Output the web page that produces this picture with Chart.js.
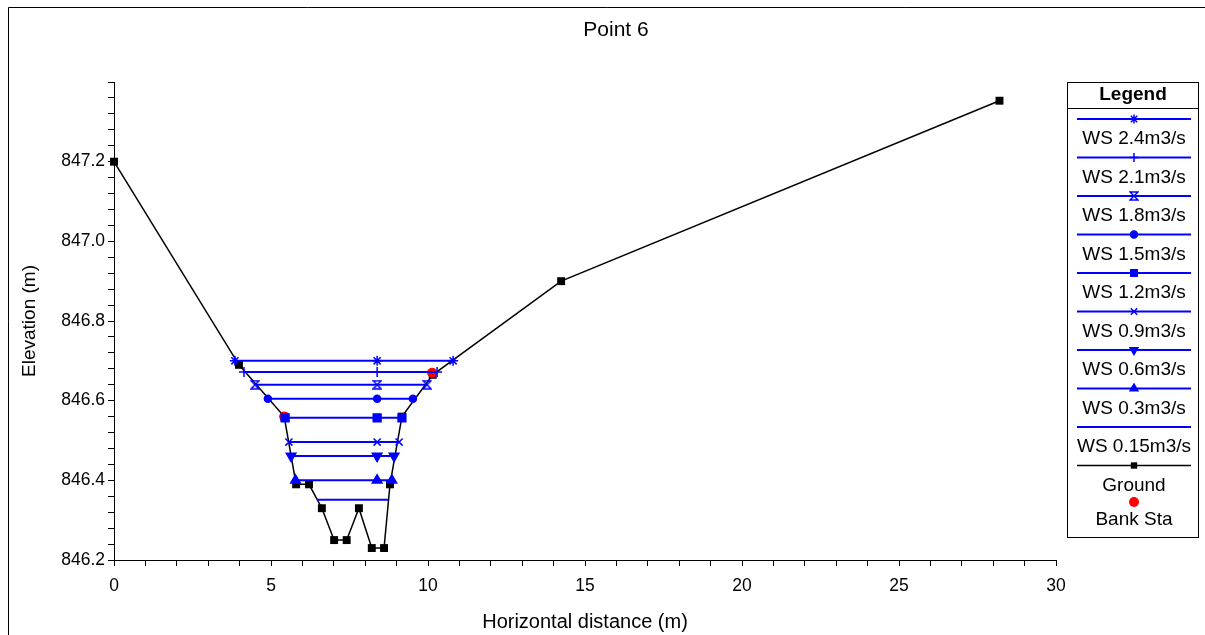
<!DOCTYPE html>
<html>
<head>
<meta charset="utf-8">
<title>Point 6</title>
<script src="https://cdn.jsdelivr.net/npm/chart.js@4.4.1/dist/chart.umd.min.js"></script>
<style>
  html, body { margin: 0; padding: 0; background: #fff; }
  #wrap { width: 1205px; height: 635px; }
</style>
</head>
<body>
<div id="wrap"><canvas id="profile" width="1205" height="635"></canvas></div>
<script>
// ground profile (station, elevation)
const groundX = [0, 3.98, 5.42, 5.80, 6.21, 6.62, 7.01, 7.41, 7.80, 8.21, 8.60, 8.79, 9.17, 10.15, 14.24, 28.20];
const groundY = [847.2, 846.69, 846.56, 846.39, 846.39, 846.33, 846.25, 846.25, 846.33, 846.23, 846.23, 846.39, 846.56, 846.665, 846.90, 847.353];

// bank stations
const bankX = [5.42, 10.13];
const bankY = [846.56, 846.67];

// water surfaces: elevation, left edge, middle marker, right edge
const wsLabels = ['WS 2.4m3/s', 'WS 2.1m3/s', 'WS 1.8m3/s', 'WS 1.5m3/s', 'WS 1.2m3/s', 'WS 0.9m3/s', 'WS 0.6m3/s', 'WS 0.3m3/s', 'WS 0.15m3/s'];
const wsElev  = [846.70, 846.672, 846.64, 846.605, 846.557, 846.496, 846.461, 846.40, 846.351];
const wsLeft  = [3.85, 4.14, 4.49, 4.90, 5.45, 5.57, 5.64, 5.78, 6.46];
const wsMid   = [8.38, 8.38, 8.38, 8.38, 8.38, 8.38, 8.38, 8.38, 8.38];
const wsRight = [10.80, 10.29, 9.97, 9.52, 9.17, 9.08, 8.92, 8.85, 8.73];

// labelled ticks
const xTickLabels = [0, 5, 10, 15, 20, 25, 30];
const yTickLabels = [846.2, 846.4, 846.6, 846.8, 847.0, 847.2];

const BLUE = '#0000ff';
const FONT = "'Liberation Sans', Arial, sans-serif";

function makeHourglass() {
  const c = document.createElement('canvas');
  c.width = 10; c.height = 10;
  const g = c.getContext('2d');
  g.strokeStyle = BLUE;
  g.lineWidth = 1.5;
  g.beginPath();
  g.moveTo(1, 1); g.lineTo(9, 1); g.lineTo(1, 9); g.lineTo(9, 9);
  g.closePath();
  g.stroke();
  return c;
}

const wsStyles = ['star', 'cross', makeHourglass(), 'circle', 'rect', 'crossRot', 'triangle', 'triangle', 'circle'];
const wsRot    = [0, 0, 0, 0, 0, 0, 180, 0, 0];
const wsRadius = [5, 5, 5, 3.5, 5.5, 5, 5.5, 5.5, 0];

const datasets = wsLabels.map((lab, i) => ({
  label: lab,
  data: [
    { x: wsLeft[i], y: wsElev[i] },
    { x: wsMid[i], y: wsElev[i] },
    { x: wsRight[i], y: wsElev[i] }
  ],
  borderColor: BLUE,
  backgroundColor: BLUE,
  borderWidth: 2,
  pointStyle: wsStyles[i],
  pointRotation: wsRot[i],
  pointRadius: wsRadius[i],
  pointBorderWidth: 1.5,
  showLine: true,
  clip: false,
  order: 0
}));

datasets.push({
  label: 'Ground',
  data: groundX.map((x, i) => ({ x: x, y: groundY[i] })),
  borderColor: '#000',
  backgroundColor: '#000',
  borderWidth: 1.5,
  pointStyle: 'rect',
  pointRadius: 5.6,
  pointBorderWidth: 0,
  showLine: true,
  clip: false,
  order: 2
});

datasets.push({
  label: 'Bank Sta',
  data: bankX.map((x, i) => ({ x: x, y: bankY[i] })),
  borderColor: '#ff0000',
  backgroundColor: '#ff0000',
  pointStyle: 'circle',
  pointRadius: 5,
  pointBorderWidth: 0,
  showLine: false,
  clip: false,
  order: 1
});

function isMajor(v, list) {
  return list.some(t => Math.abs(t - v) < 1e-6);
}

// frame, title and the boxed legend on the right
const decor = {
  id: 'decor',
  beforeDraw(chart) {
    const ctx = chart.ctx;
    ctx.save();
    ctx.fillStyle = '#fff';
    ctx.fillRect(0, 0, chart.width, chart.height);
    ctx.strokeStyle = '#000';
    ctx.lineWidth = 1;
    ctx.beginPath();
    ctx.moveTo(8.5, chart.height);
    ctx.lineTo(8.5, 7.5);
    ctx.lineTo(chart.width, 7.5);
    ctx.stroke();
    ctx.fillStyle = '#000';
    ctx.font = '21px ' + FONT;
    ctx.textAlign = 'center';
    ctx.textBaseline = 'middle';
    ctx.fillText('Point 6', 616, 30);
    ctx.restore();
  },
  afterDraw(chart) {
    const ctx = chart.ctx;
    const bx = 1067.5, by = 82.5, bw = 131, bh = 455;
    const cx = 1134, x0 = 1077, x1 = 1191;
    ctx.save();
    ctx.strokeStyle = '#000';
    ctx.lineWidth = 1;
    ctx.strokeRect(bx, by, bw, bh);
    ctx.beginPath();
    ctx.moveTo(bx, 108.5);
    ctx.lineTo(bx + bw, 108.5);
    ctx.stroke();
    ctx.fillStyle = '#000';
    ctx.textAlign = 'center';
    ctx.textBaseline = 'middle';
    ctx.font = 'bold 19px ' + FONT;
    ctx.fillText('Legend', 1133, 95);

    const draw = Chart.helpers && Chart.helpers.drawPoint;
    const ds = chart.data.datasets;
    for (let i = 0; i < 10; i++) {
      const d = ds[i];
      const ly = 119 + i * 38.5;
      ctx.strokeStyle = d.borderColor;
      ctx.lineWidth = i < 9 ? 2 : 1.5;
      ctx.beginPath();
      ctx.moveTo(x0, ly);
      ctx.lineTo(x1, ly);
      ctx.stroke();
      if (draw && d.pointRadius > 0) {
        ctx.fillStyle = d.backgroundColor;
        ctx.strokeStyle = d.borderColor;
        ctx.lineWidth = d.pointBorderWidth;
        draw(ctx, {
          pointStyle: d.pointStyle,
          rotation: d.pointRotation || 0,
          radius: Math.min(d.pointRadius, 4.5),
          borderWidth: d.pointBorderWidth
        }, cx, ly);
      }
      ctx.fillStyle = '#000';
      ctx.font = '19px ' + FONT;
      ctx.fillText(d.label, 1134, ly + 20);
    }
    // bank station entry
    const bank = ds[10];
    ctx.fillStyle = bank.backgroundColor;
    ctx.beginPath();
    ctx.arc(cx, 502, 5, 0, Math.PI * 2);
    ctx.fill();
    ctx.fillStyle = '#000';
    ctx.fillText(bank.label, 1134, 520);
    ctx.restore();
  }
};

new Chart(document.getElementById('profile'), {
  type: 'scatter',
  data: { datasets: datasets },
  options: {
    responsive: false,
    animation: false,
    devicePixelRatio: 1,
    layout: { padding: { left: 0, right: 149, top: 82, bottom: 0 } },
    plugins: {
      legend: { display: false },
      title: { display: false },
      tooltip: { enabled: false }
    },
    scales: {
      x: {
        type: 'linear',
        min: 0,
        max: 30,
        afterFit(scale) { scale.height = 75; },
        border: { color: '#000', width: 1 },
        grid: { drawOnChartArea: false, color: '#000', tickLength: 6 },
        ticks: {
          stepSize: 1,
          autoSkip: false,
          maxRotation: 0,
          padding: 10,
          color: '#000',
          font: { family: FONT, size: 17.5 },
          callback: v => isMajor(v, xTickLabels) ? String(v) : ''
        },
        title: {
          display: true,
          text: 'Horizontal distance (m)',
          color: '#000',
          font: { family: FONT, size: 20 },
          padding: { top: 0, bottom: 1 }
        }
      },
      y: {
        type: 'linear',
        min: 846.2,
        max: 847.4,
        afterFit(scale) { scale.width = 114; },
        border: { color: '#000', width: 1 },
        grid: { drawOnChartArea: false, color: '#000', tickLength: 6 },
        ticks: {
          stepSize: 0.04,
          autoSkip: false,
          padding: 3,
          color: '#000',
          font: { family: FONT, size: 17.5 },
          callback: v => isMajor(v, yTickLabels) ? v.toFixed(1) : ''
        },
        title: {
          display: true,
          text: 'Elevation (m)',
          color: '#000',
          font: { family: FONT, size: 19 },
          padding: { top: 18, bottom: 0 }
        }
      }
    }
  },
  plugins: [decor]
});
</script>
</body>
</html>
